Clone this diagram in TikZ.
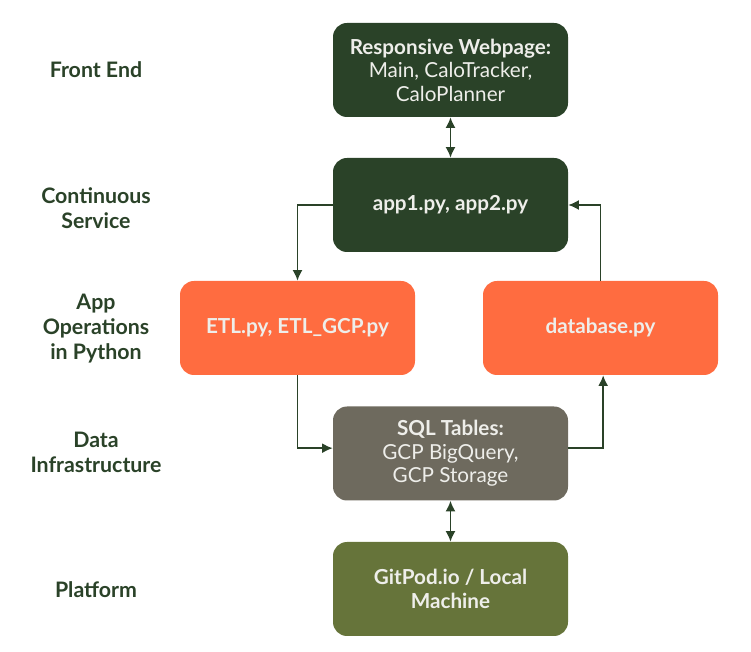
\documentclass[tikz,border=0pt]{standalone}
\usepackage{fontspec}
\setmainfont{Lato}
\usepackage{tikz}
\usetikzlibrary{arrows.meta,positioning}
\definecolor{fgreen}{HTML}{2A4228}
\definecolor{forange}{HTML}{FF6C40}
\definecolor{fgray}{HTML}{6E6A5E}
\definecolor{folive}{HTML}{66743A}
\definecolor{ftext}{HTML}{EEEEEA}
\tikzset{
	tier/.style={rounded corners=10.5pt, minimum width=176.25pt, minimum height=70.5pt, inner sep=0pt,
		align=center, text=ftext, font=\fontsize{15.5}{17.6}\selectfont},
	lbl/.style={align=center, text=fgreen, font=\fontsize{16}{18.8}\selectfont\bfseries},
	link/.style={draw=fgreen, line width=1.2pt, -{Latex[length=8pt,width=7.5pt]}},
	duplex/.style={link, {Latex[length=8pt,width=7.5pt]}-{Latex[length=8pt,width=7.5pt]}}
}

\begin{document}
	\begin{tikzpicture}[x=0.75pt,y=-0.75pt]
		%%%%% START %%%%%
		
		\useasboundingbox (0, 0) rectangle (751, 652);
		
		\node[tier, fill=fgreen] (web) at (450.5, 70) {\textbf{Responsive Webpage:}\\Main, CaloTracker,\\CaloPlanner};
		\node[tier, fill=fgreen] (app) at (450.5, 205) {\textbf{app1.py, app2.py}};
		\node[tier, fill=forange] (etl) at (297.5, 328) {\textbf{ETL.py, ETL\_GCP.py}};
		\node[tier, fill=forange] (db) at (600.5, 328) {\textbf{database.py}};
		\node[tier, fill=fgray] (sql) at (450.5, 453.5) {\textbf{SQL Tables:}\\GCP BigQuery,\\GCP Storage};
		\node[tier, fill=folive] (pod) at (450.5, 589) {\textbf{GitPod.io / Local}\\\textbf{Machine}};
		
		\node[lbl] (front) at (96, 70) {Front End};
		\node[lbl] (serv) at (96, 208) {Continuous\\Service};
		\node[lbl] (ops) at (96, 329) {App\\Operations\\in Python};
		\node[lbl] (data) at (96, 452) {Data\\Infrastructure};
		\node[lbl] (plat) at (96, 590) {Platform};
		
		\draw[duplex] (web) -- (app);
		\draw[duplex] (sql) -- (pod);
		
		\draw[link] (app.west) -| (etl.north);
		\draw[link] (etl.south) |- ([yshift=4]sql.west);
		\draw[link] ([yshift=4]sql.east) -| ([xshift=2]db.south);
		\draw[link] (db.north) |- (app.east);
		
		%%%%% END %%%%%
	\end{tikzpicture}
\end{document}
